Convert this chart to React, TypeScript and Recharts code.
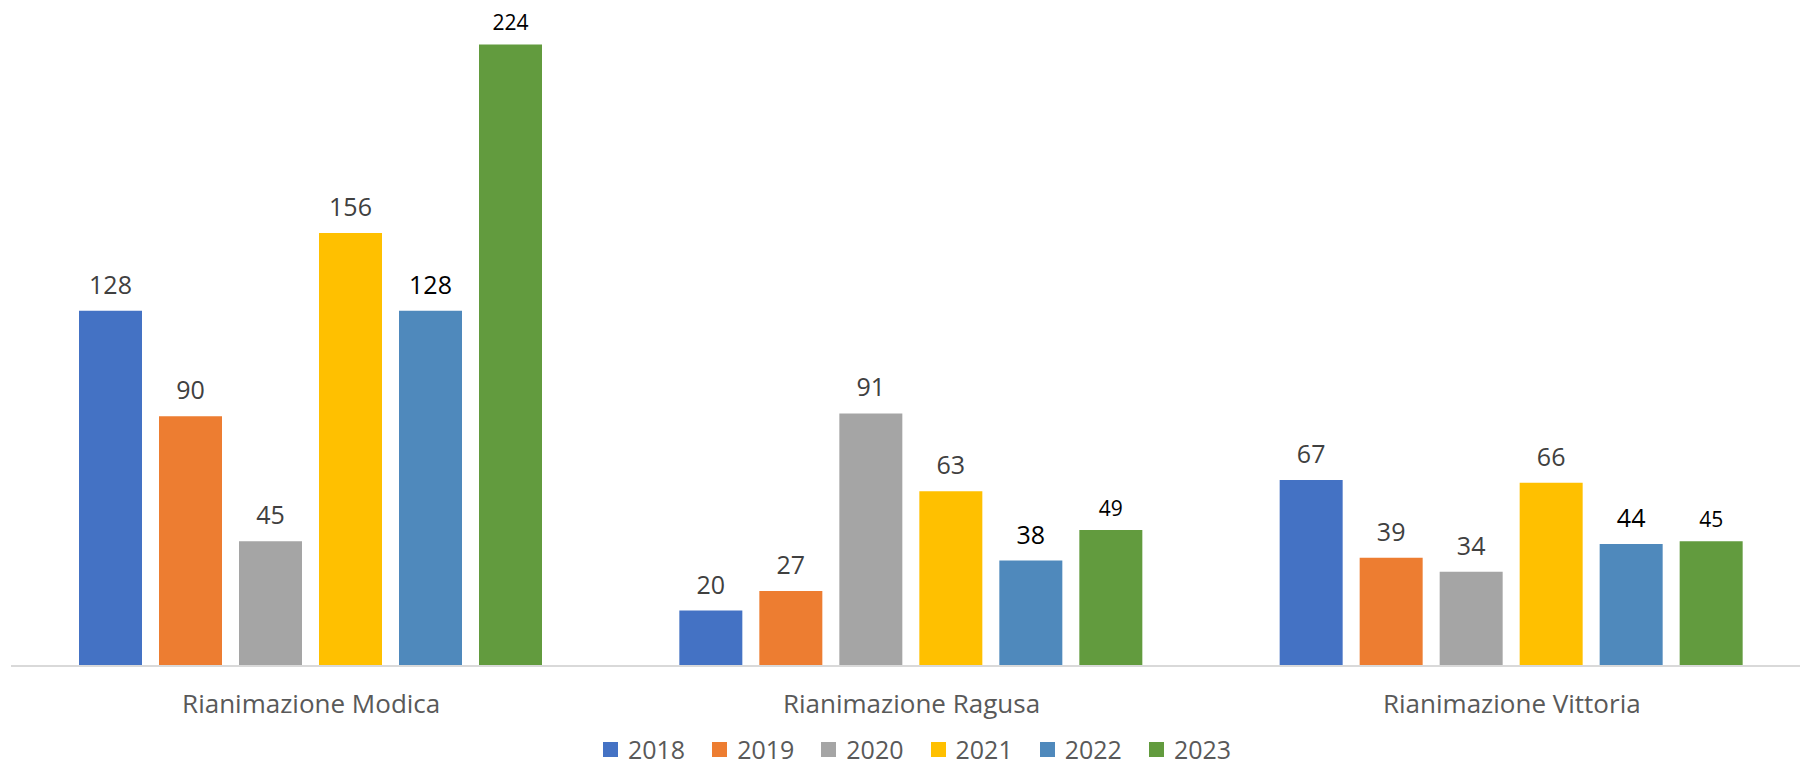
import { BarChart, Bar, XAxis, YAxis, Legend, LabelList } from "recharts";

const categories = ["Rianimazione Modica", "Rianimazione Ragusa", "Rianimazione Vittoria"];
const years = ["2018", "2019", "2020", "2021", "2022", "2023"];
const v2018 = [128, 20, 67];
const v2019 = [90, 27, 39];
const v2020 = [45, 91, 34];
const v2021 = [156, 63, 66];
const v2022 = [128, 38, 44];
const v2023 = [224, 49, 45];
const series = [v2018, v2019, v2020, v2021, v2022, v2023];

const colors = ["#4472C4", "#ED7D31", "#A5A5A5", "#FFC000", "#4F89BC", "#629B3E"];
const labelStyles = [
  { fill: "#404040", size: 25, offset: 17 },
  { fill: "#404040", size: 25, offset: 17 },
  { fill: "#404040", size: 25, offset: 17 },
  { fill: "#404040", size: 25, offset: 17 },
  { fill: "#000000", size: 25, offset: 17 },
  { fill: "#000000", size: 21, offset: 14 },
];

const data = categories.map((name, i) => {
  const row: Record<string, string | number> = { name };
  years.forEach((y, k) => (row[y] = series[k][i]));
  return row;
});

const FONT = "'Open Sans', sans-serif";

function makeLabel(k: number) {
  const st = labelStyles[k];
  return (props: any) => {
    const { x, y, width, value } = props;
    return (
      <text x={x + width / 2} y={y - st.offset} textAnchor="middle" fill={st.fill}
        fontSize={st.size} fontFamily={FONT}>
        {value}
      </text>
    );
  };
}

function LegendBox() {
  return (
    <div style={{ display: "flex", justifyContent: "center", alignItems: "center", height: 46,
      paddingTop: 10, paddingLeft: 34, boxSizing: "border-box", fontFamily: FONT }}>
      {years.map((y, k) => (
        <div key={y} style={{ display: "flex", alignItems: "center", marginRight: k < 5 ? 27 : 0 }}>
          <span style={{ width: 15, height: 15, background: colors[k], display: "inline-block", marginRight: 10 }} />
          <span style={{ fontSize: 25, color: "#595959", lineHeight: "25px" }}>{y}</span>
        </div>
      ))}
    </div>
  );
}

export default function App() {
  return (
    <div style={{ position: "absolute", left: 0, top: 0, width: 1800, height: 767, overflow: "hidden", background: "#fff" }}>
      <BarChart width={1812} height={767} data={data}
        margin={{ top: 0, right: 0, left: 11, bottom: 0 }}
        barCategoryGap={68} barGap={17}>
        <XAxis dataKey="name" axisLine={{ stroke: "#D9D9D9", strokeWidth: 2 }} tickLine={false}
          height={55} tickMargin={23}
          tick={{ fill: "#595959", fontSize: 26, fontFamily: FONT }} />
        <YAxis hide domain={[0, 240]} />
        <Legend verticalAlign="bottom" height={46} content={<LegendBox />}
          wrapperStyle={{ left: 0, width: 1800 }} />
        {years.map((y, k) => (
          <Bar key={y} dataKey={y} fill={colors[k]} isAnimationActive={false}>
            <LabelList dataKey={y} content={makeLabel(k)} />
          </Bar>
        ))}
      </BarChart>
    </div>
  );
}
